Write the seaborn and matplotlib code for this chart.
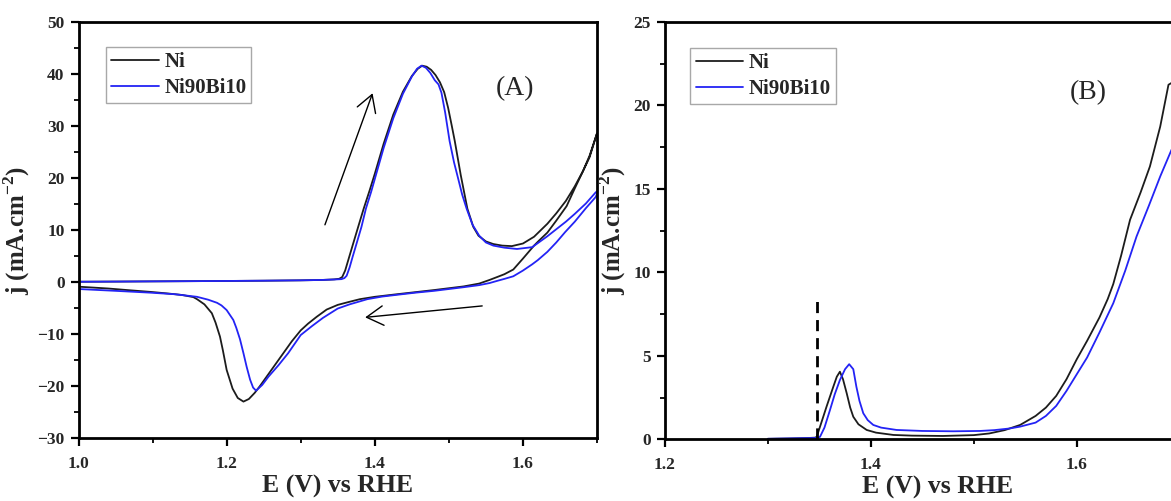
import numpy as np
import pandas as pd
import seaborn as sns
import matplotlib
matplotlib.use("Agg")
import matplotlib.pyplot as plt
from matplotlib.ticker import MultipleLocator, FormatStrFormatter

# ---------------- data ----------------
series_names = ["Ni", "Ni90Bi10"]
series_colors = ["#1c1c1c", "#2323f5"]

# Panel A: cyclic voltammograms (forward scan 1.0 -> 1.70, then reverse back to 1.0)
ni_cv_E = [1.00, 1.05, 1.10, 1.15, 1.20, 1.25, 1.30, 1.33, 1.345, 1.352, 1.356, 1.36, 1.365, 1.37,
           1.378, 1.385, 1.393, 1.40, 1.412, 1.425, 1.438, 1.45, 1.458, 1.464, 1.470, 1.476, 1.482,
           1.488, 1.4937, 1.499, 1.504, 1.508, 1.516, 1.525, 1.533, 1.540, 1.550, 1.560, 1.572,
           1.585, 1.60, 1.615, 1.633, 1.645, 1.658, 1.67, 1.681, 1.69, 1.70,
           1.69, 1.68, 1.67, 1.659, 1.645, 1.633, 1.622, 1.615, 1.60, 1.587, 1.575, 1.566, 1.555,
           1.541, 1.52, 1.50, 1.48, 1.455, 1.43, 1.40, 1.38, 1.366, 1.35, 1.335, 1.3215, 1.31, 1.30,
           1.288, 1.2765, 1.265, 1.254, 1.245, 1.238, 1.23, 1.2227, 1.215, 1.208, 1.20, 1.195, 1.191,
           1.185, 1.18, 1.17, 1.16, 1.155, 1.14, 1.12, 1.097, 1.07, 1.04, 1.00]
ni_cv_j = [0.05, 0.08, 0.12, 0.16, 0.20, 0.25, 0.32, 0.40, 0.50, 0.62, 0.95, 2.2, 4.6, 7.0,
           10.8, 14.1, 17.6, 20.8, 26.6, 32.2, 36.6, 39.6, 41.0, 41.6, 41.4, 40.8, 39.8,
           38.4, 36.5, 33.5, 30.0, 27.1, 20.6, 14.1, 10.6, 8.9, 7.8, 7.3, 7.0,
           6.9, 7.4, 8.7, 11.2, 13.2, 15.6, 18.4, 21.3, 24.3, 28.6,
           24.0, 21.0, 18.0, 14.6, 11.8, 9.5, 8.0, 7.0, 4.5, 2.4, 1.5, 1.0, 0.4,
           -0.3, -0.85, -1.2, -1.55, -1.95, -2.35, -2.85, -3.3, -3.8, -4.4, -5.3, -6.7, -8.0, -9.3,
           -11.4, -13.7, -16.0, -18.2, -20.0, -21.3, -22.5, -23.0, -22.3, -20.5, -16.9, -13.2, -10.5,
           -7.8, -6.0, -4.3, -3.3, -2.9, -2.5, -2.2, -1.9, -1.6, -1.25, -0.9]

bi_cv_E = [1.00, 1.05, 1.10, 1.15, 1.20, 1.25, 1.30, 1.33, 1.345, 1.355, 1.359, 1.362, 1.366, 1.37,
           1.375, 1.382, 1.388, 1.395, 1.40, 1.412, 1.425, 1.438, 1.45, 1.457, 1.463, 1.469, 1.475,
           1.481, 1.486, 1.490, 1.495, 1.501, 1.507, 1.512, 1.518, 1.524, 1.532, 1.541, 1.55, 1.56,
           1.575, 1.592, 1.6125, 1.633, 1.658, 1.67, 1.685, 1.698, 1.703,
           1.698, 1.685, 1.67, 1.657, 1.645, 1.633, 1.62, 1.6125, 1.60, 1.587, 1.575, 1.566, 1.555,
           1.541, 1.52, 1.50, 1.48, 1.455, 1.4337, 1.41, 1.39, 1.366, 1.35, 1.33, 1.315, 1.30, 1.283,
           1.27, 1.2565, 1.248, 1.2397, 1.2357, 1.2317, 1.227, 1.2227, 1.218, 1.213, 1.209, 1.20,
           1.193, 1.187, 1.175, 1.16, 1.13, 1.097, 1.05, 1.00]
bi_cv_j = [0.05, 0.08, 0.12, 0.16, 0.20, 0.25, 0.32, 0.40, 0.48, 0.55, 0.75, 1.2, 2.8, 4.8,
           7.2, 10.6, 14.1, 17.3, 19.8, 25.8, 31.5, 36.2, 39.5, 41.0, 41.6, 41.2, 40.2,
           38.8, 38.0, 36.4, 32.6, 27.1, 23.0, 20.2, 16.8, 14.1, 11.0, 8.9, 7.6, 7.0,
           6.6, 6.35, 6.7, 8.8, 11.6, 13.1, 15.1, 17.2, 17.8,
           16.3, 14.2, 11.6, 9.6, 7.6, 5.8, 4.2, 3.4, 2.2, 1.1, 0.6, 0.25, -0.2,
           -0.6, -1.0, -1.35, -1.7, -2.05, -2.4, -2.8, -3.3, -4.3, -5.1, -6.9, -8.5, -10.2, -13.7,
           -16.0, -18.2, -19.8, -20.9, -20.3, -18.8, -16.3, -13.7, -11.0, -8.8, -7.3, -5.4,
           -4.5, -4.0, -3.4, -2.85, -2.35, -2.05, -1.7, -1.35]

# Panel B: linear sweep voltammograms
ni_lsv_E = [1.30, 1.32, 1.34, 1.346, 1.3475, 1.352, 1.357, 1.3636, 1.367, 1.370, 1.373, 1.3766,
            1.380, 1.383, 1.388, 1.396, 1.405, 1.422, 1.44, 1.47, 1.50, 1.515, 1.53, 1.545, 1.56,
            1.57, 1.58, 1.59, 1.60, 1.61, 1.622, 1.63, 1.6354, 1.643, 1.6517, 1.662, 1.671, 1.681,
            1.689, 1.692]
ni_lsv_j = [0.03, 0.05, 0.08, 0.10, 0.15, 1.0, 1.95, 3.15, 3.75, 4.05, 3.6, 2.76,
            1.9, 1.35, 0.9, 0.56, 0.4, 0.26, 0.22, 0.2, 0.25, 0.35, 0.55, 0.86, 1.4,
            1.9, 2.6, 3.6, 4.8, 5.9, 7.3, 8.4, 9.3, 11.0, 13.15, 14.8, 16.35, 18.74,
            21.24, 21.35]

bi_lsv_E = [1.30, 1.32, 1.34, 1.348, 1.3507, 1.355, 1.3604, 1.365, 1.370, 1.375, 1.379, 1.383,
            1.386, 1.389, 1.3927, 1.397, 1.4024, 1.41, 1.425, 1.45, 1.48, 1.506, 1.52, 1.535,
            1.545, 1.56, 1.57, 1.58, 1.59, 1.60, 1.61, 1.622, 1.6354, 1.647, 1.658, 1.67, 1.681,
            1.692]
bi_lsv_j = [0.03, 0.05, 0.07, 0.08, 0.15, 0.7, 1.76, 2.7, 3.55, 4.2, 4.5, 4.2,
            3.15, 2.3, 1.56, 1.15, 0.86, 0.7, 0.56, 0.5, 0.48, 0.5, 0.55, 0.65,
            0.76, 1.0, 1.4, 2.0, 2.9, 3.9, 4.9, 6.4, 8.15, 10.1, 12.15, 14.0, 15.75,
            17.35]

onset_E = 1.348
onset_top = 8.6

xlabel_text = "E (V) vs RHE"
ylabel_text = "j (mA.cm$^{-2}$)"
panel_labels = ["(A)", "(B)"]

# ---------------- style ----------------
sns.set_theme(style="ticks")
plt.rcParams["font.family"] = ["Liberation Serif", "DejaVu Serif"]
plt.rcParams["mathtext.fontset"] = "custom"
plt.rcParams["mathtext.rm"] = "Liberation Serif:bold"
plt.rcParams["mathtext.bf"] = "Liberation Serif:bold"
plt.rcParams["axes.linewidth"] = 2.0
plt.rcParams["axes.edgecolor"] = "black"

W, H = 1171, 501
fig = plt.figure(figsize=(W / 100, H / 100), dpi=100)

def fx(px):
    return px / W

def fy(py):
    return 1 - py / H

axA = fig.add_axes([fx(78.5), fy(438), fx(597) - fx(78.5), fy(22) - fy(438)])
b_right = 664.8 + 0.53 * 1030
axB = fig.add_axes([fx(664.8), fy(439.3), fx(b_right) - fx(664.8), fy(22) - fy(439.3)])

lw = 1.3
sns.lineplot(x=ni_cv_E, y=ni_cv_j, sort=False, estimator=None, color=series_colors[0],
             linewidth=lw, ax=axA, label=series_names[0])
sns.lineplot(x=bi_cv_E, y=bi_cv_j, sort=False, estimator=None, color=series_colors[1],
             linewidth=lw, ax=axA, label=series_names[1])

sns.lineplot(x=ni_lsv_E, y=ni_lsv_j, sort=False, estimator=None, color=series_colors[0],
             linewidth=lw, ax=axB, label=series_names[0])
sns.lineplot(x=bi_lsv_E, y=bi_lsv_j, sort=False, estimator=None, color=series_colors[1],
             linewidth=lw, ax=axB, label=series_names[1])
axB.vlines(onset_E, 0, onset_top, colors="black", linestyles=(0, (4, 2.5)), linewidth=2.0)

axA.set_xlim(1.0, 1.7)
axA.set_ylim(-30, 50)
axB.set_xlim(1.2, 1.73)
axB.set_ylim(0, 25)

axA.xaxis.set_major_locator(MultipleLocator(0.2))
axA.xaxis.set_minor_locator(MultipleLocator(0.1))
axA.yaxis.set_major_locator(MultipleLocator(10))
axA.yaxis.set_minor_locator(MultipleLocator(5))
axB.xaxis.set_major_locator(MultipleLocator(0.2))
axB.xaxis.set_minor_locator(MultipleLocator(0.1))
axB.yaxis.set_major_locator(MultipleLocator(5))
axB.yaxis.set_minor_locator(MultipleLocator(2.5))

for ax in (axA, axB):
    ax.xaxis.set_major_formatter(FormatStrFormatter("%.1f"))
    for s in ax.spines.values():
        s.set_visible(True)
        s.set_linewidth(2.0)
        s.set_color("black")
    ax.tick_params(which="major", direction="out", length=6, width=1.6, color="black",
                   labelsize=12.5, pad=4)
    ax.tick_params(which="minor", direction="out", length=3.5, width=1.3, color="black")
    ax.tick_params(axis="x", which="major", pad=7)
    ax.set_xlabel(xlabel_text, fontsize=18.5, fontweight="bold", labelpad=2)
    ax.set_ylabel(ylabel_text, fontsize=18, fontweight="bold", labelpad=4)
    ax.set_facecolor("white")
    for t in ax.get_xticklabels() + ax.get_yticklabels():
        t.set_fontweight("bold")

# legends
leg_pos = [(fx(105.8), fy(46.7)), (fx(690.3), fy(47.7))]
for ax, pos in zip((axA, axB), leg_pos):
    leg = ax.legend(loc="upper left", bbox_to_anchor=pos, bbox_transform=fig.transFigure,
                    borderaxespad=0, frameon=True, fancybox=False, framealpha=1,
                    edgecolor="#a8a8a8",
                    prop={"family": "Liberation Serif", "weight": "bold", "size": 15},
                    handlelength=2.3, handletextpad=0.25, labelspacing=0.3, borderpad=0.25)
    leg.get_frame().set_linewidth(1.0)

# panel labels
axA.text(1.589, 37.1, panel_labels[0], fontsize=20, ha="center", va="center")
axB.text(1.611, 20.76, panel_labels[1], fontsize=20, ha="center", va="center")

# scan-direction arrows in panel A
arrow_style = dict(arrowstyle="->,head_length=0.6,head_width=0.35", lw=1.0, color="black",
                   mutation_scale=20, shrinkA=0, shrinkB=0)
axA.annotate("", xy=(1.397, 36.3), xytext=(1.3327, 11.0), arrowprops=arrow_style)
axA.annotate("", xy=(1.387, -6.8), xytext=(1.545, -4.6), arrowprops=arrow_style)

fig.savefig("out.png", dpi=100, facecolor="white")
